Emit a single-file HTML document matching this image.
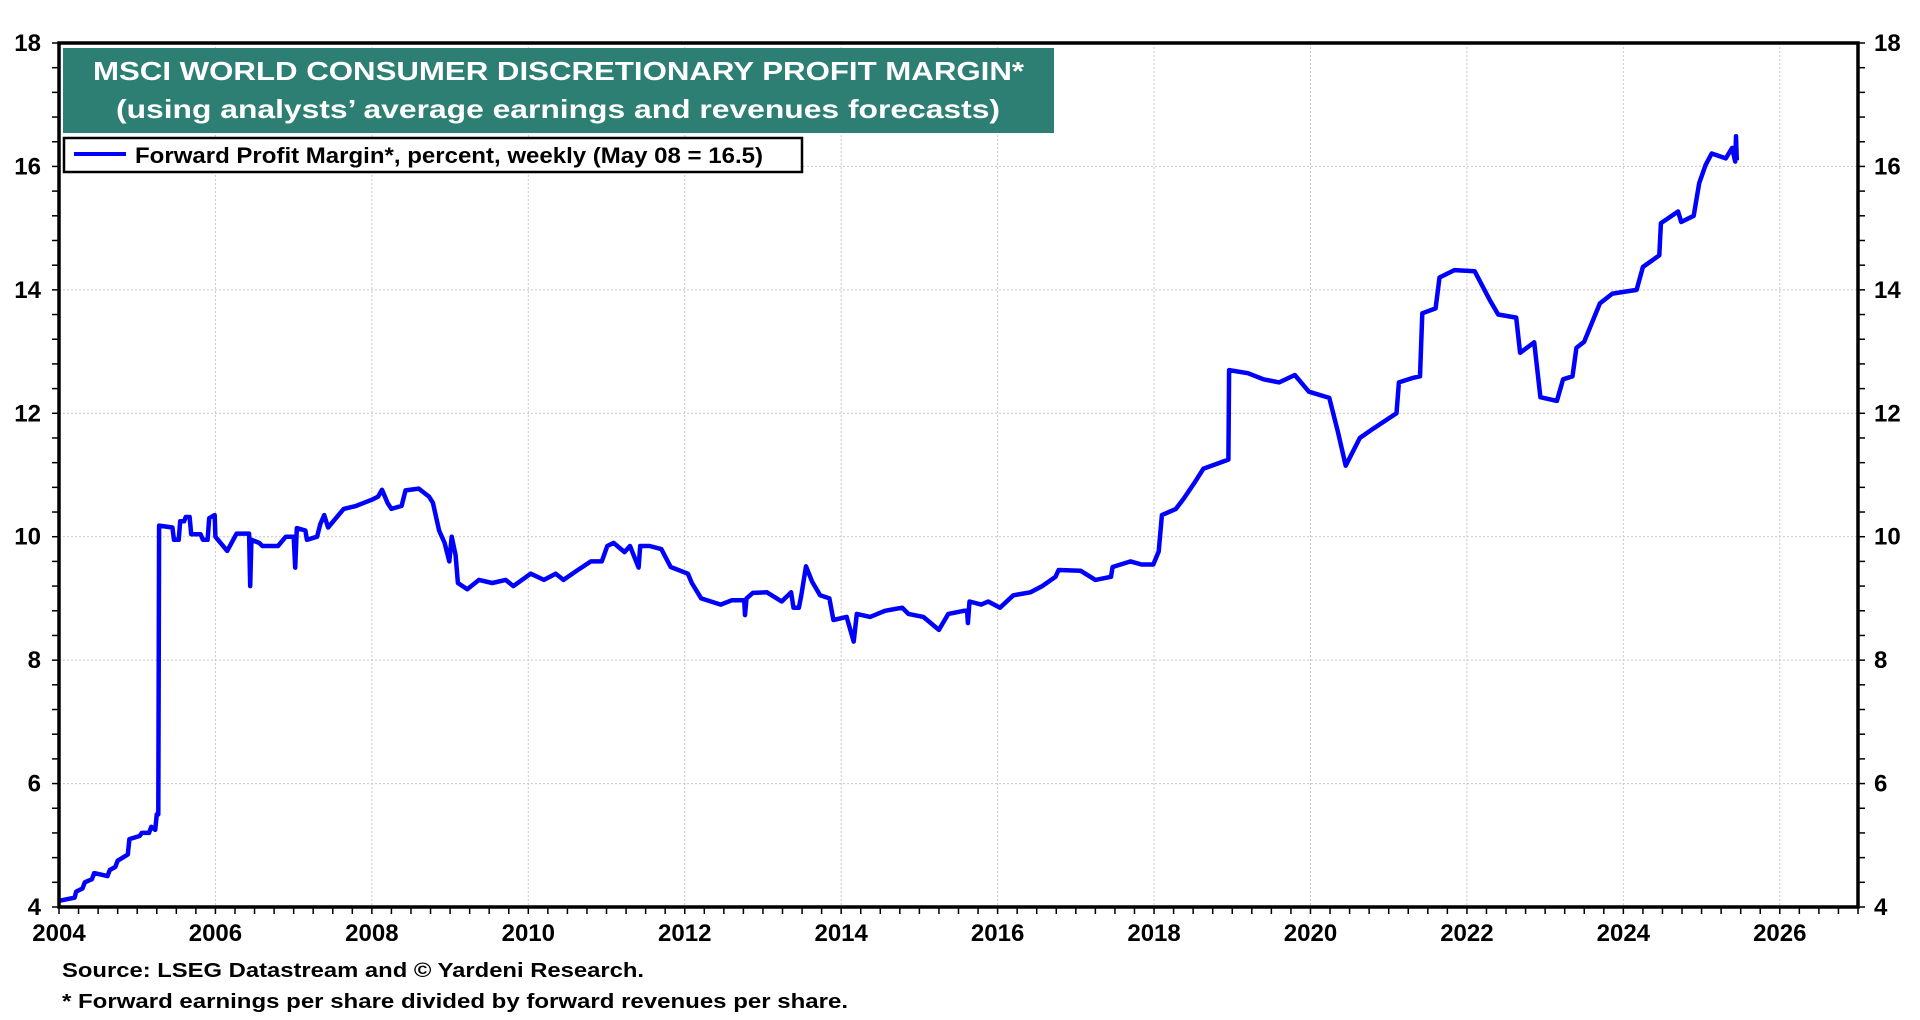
<!DOCTYPE html>
<html><head><meta charset="utf-8"><style>
html,body{margin:0;padding:0;background:#fff;}
svg{display:block;font-family:"Liberation Sans",Arial,sans-serif;font-weight:bold;}
</style></head><body>
<svg id="chart" width="1920" height="1020" viewBox="0 0 1920 1020" xmlns="http://www.w3.org/2000/svg">
<g id="grid"></g>
<g id="series"></g>
<g id="axes"></g>
<rect x="63" y="48" width="991" height="85" fill="#2e7f73"/>
<text x="93" y="80" fill="#fff" font-size="26" textLength="931" lengthAdjust="spacingAndGlyphs">MSCI WORLD CONSUMER DISCRETIONARY PROFIT MARGIN*</text>
<text x="116" y="118" fill="#fff" font-size="26" textLength="884" lengthAdjust="spacingAndGlyphs">(using analysts’ average earnings and revenues forecasts)</text>
<g>
<rect x="64" y="138" width="738" height="34" fill="#fff" stroke="#000" stroke-width="2.5"/>
<line x1="74" y1="154" x2="126" y2="154" stroke="#0000ff" stroke-width="4"/>
<text x="135" y="163" font-size="22" textLength="628" lengthAdjust="spacingAndGlyphs">Forward Profit Margin*, percent, weekly (May 08 = 16.5)</text>
</g>
<text x="62" y="977" font-size="20.5" textLength="582" lengthAdjust="spacingAndGlyphs">Source: LSEG Datastream and © Yardeni Research.</text>
<text x="62" y="1008" font-size="20.5" textLength="786" lengthAdjust="spacingAndGlyphs">* Forward earnings per share divided by forward revenues per share.</text>
</svg>
<script>
const dates = [2004.0,2004.2,2004.22,2004.3,2004.33,2004.42,2004.45,2004.62,2004.65,2004.72,2004.75,2004.88,2004.9,2005.03,2005.06,2005.15,2005.18,2005.23,2005.25,2005.27,2005.28,2005.45,2005.47,2005.53,2005.55,2005.6,2005.62,2005.67,2005.69,2005.81,2005.84,2005.9,2005.92,2005.99,2006.0,2006.15,2006.27,2006.34,2006.43,2006.445,2006.46,2006.56,2006.6,2006.8,2006.9,2007.0,2007.02,2007.04,2007.15,2007.17,2007.3,2007.34,2007.39,2007.44,2007.54,2007.64,2007.8,2007.9,2008.0,2008.08,2008.13,2008.2,2008.25,2008.38,2008.43,2008.6,2008.73,2008.78,2008.86,2008.93,2008.99,2009.02,2009.07,2009.1,2009.22,2009.37,2009.54,2009.71,2009.81,2010.03,2010.2,2010.35,2010.45,2010.62,2010.8,2010.94,2011.01,2011.09,2011.23,2011.3,2011.41,2011.43,2011.55,2011.7,2011.82,2012.04,2012.09,2012.21,2012.46,2012.6,2012.76,2012.77,2012.79,2012.87,2013.05,2013.24,2013.36,2013.39,2013.46,2013.49,2013.55,2013.63,2013.73,2013.85,2013.9,2014.07,2014.16,2014.2,2014.37,2014.56,2014.78,2014.86,2015.05,2015.25,2015.37,2015.57,2015.61,2015.62,2015.64,2015.79,2015.88,2016.03,2016.2,2016.42,2016.57,2016.74,2016.78,2017.06,2017.25,2017.45,2017.47,2017.7,2017.84,2017.99,2018.06,2018.1,2018.28,2018.38,2018.53,2018.63,2018.95,2018.96,2019.2,2019.4,2019.6,2019.8,2019.98,2020.24,2020.35,2020.45,2020.63,2020.8,2021.1,2021.13,2021.3,2021.4,2021.43,2021.6,2021.65,2021.84,2022.1,2022.29,2022.4,2022.63,2022.68,2022.86,2022.94,2023.15,2023.23,2023.35,2023.4,2023.5,2023.7,2023.86,2024.17,2024.25,2024.46,2024.48,2024.7,2024.74,2024.9,2024.97,2025.05,2025.13,2025.31,2025.39,2025.43,2025.44,2025.45];
const values = [4.1,4.15,4.25,4.3,4.4,4.45,4.55,4.5,4.6,4.65,4.75,4.85,5.1,5.15,5.2,5.2,5.3,5.25,5.5,5.5,10.18,10.15,9.95,9.95,10.25,10.25,10.32,10.32,10.04,10.04,9.95,9.95,10.3,10.35,10.0,9.77,10.05,10.05,10.05,9.2,9.95,9.9,9.85,9.85,10.0,10.0,9.5,10.14,10.1,9.95,10.0,10.2,10.35,10.15,10.3,10.45,10.5,10.55,10.6,10.65,10.76,10.55,10.45,10.5,10.75,10.78,10.65,10.55,10.1,9.9,9.6,10.0,9.7,9.25,9.15,9.3,9.25,9.3,9.2,9.4,9.3,9.4,9.3,9.45,9.6,9.6,9.85,9.9,9.75,9.85,9.5,9.85,9.85,9.8,9.51,9.4,9.25,9.0,8.9,8.97,8.97,8.73,9.0,9.09,9.1,8.95,9.1,8.85,8.85,9.05,9.52,9.27,9.05,9.0,8.65,8.7,8.3,8.75,8.7,8.8,8.85,8.75,8.7,8.49,8.75,8.8,8.8,8.6,8.95,8.9,8.95,8.85,9.05,9.1,9.2,9.35,9.46,9.45,9.3,9.35,9.51,9.6,9.55,9.55,9.76,10.35,10.45,10.62,10.9,11.1,11.25,12.7,12.65,12.55,12.5,12.62,12.35,12.25,11.7,11.15,11.6,11.75,12.0,12.5,12.57,12.6,13.62,13.7,14.2,14.32,14.3,13.84,13.6,13.55,12.98,13.15,12.26,12.2,12.55,12.6,13.06,13.16,13.78,13.94,14.0,14.37,14.56,15.08,15.27,15.1,15.2,15.73,16.02,16.21,16.13,16.3,16.08,16.49,16.1];
const yTicks = [4,6,8,10,12,14,16,18];
const xTicks = [2004,2006,2008,2010,2012,2014,2016,2018,2020,2022,2024,2026];

const X0=59, X1=1858, Y0=43, Y1=907;
const xMin=2004, xMax=2027, yMin=4, yMax=18;
const sx = d => X0 + (d-xMin)/(xMax-xMin)*(X1-X0);
const sy = v => Y1 - (v-yMin)/(yMax-yMin)*(Y1-Y0);
const NS='http://www.w3.org/2000/svg';
function mk(tag, attrs, parent){
  const e=document.createElementNS(NS,tag);
  for(const k in attrs) e.setAttribute(k, attrs[k]);
  parent.appendChild(e); return e;
}
const grid=document.getElementById('grid'), axes=document.getElementById('axes'), series=document.getElementById('series');
yTicks.forEach(v=>{
  if(v===yMin||v===yMax) return;
  const l=mk('line',{x1:X0,x2:X1,y1:sy(v),y2:sy(v),stroke:'#c8c8c8','stroke-width':1,'stroke-dasharray':'2,2'},grid);
  
  
});
xTicks.forEach(d=>{
  if(d===xMin) return;
  const l=mk('line',{x1:sx(d),x2:sx(d),y1:Y0,y2:Y1,stroke:'#c8c8c8','stroke-width':1,'stroke-dasharray':'2,2'},grid);
  
  
});
const pts = dates.map((d,i)=>sx(d).toFixed(1)+','+sy(values[i]).toFixed(1)).join(' ');
const line=mk('polyline',{points:pts,fill:'none',stroke:'#0000ff','stroke-width':4.5,'stroke-linejoin':'round'},series);


const frame=mk('rect',{x:X0,y:Y0,width:X1-X0,height:Y1-Y0,fill:'none',stroke:'#000','stroke-width':3.5},axes);


for(let v=yMin; v<=yMax+0.001; v+=0.4){
  const y=sy(v);
  const a=mk('line',{x1:X0-7,x2:X0,y1:y,y2:y,stroke:'#000','stroke-width':1.5},axes);
  
  
  const b=mk('line',{x1:X1,x2:X1+7,y1:y,y2:y,stroke:'#000','stroke-width':1.5},axes);
  
  
}
yTicks.forEach(v=>{
  const t=mk('text',{x:41,y:sy(v)+8,'text-anchor':'end','font-size':24},axes);
  t.textContent=v;
  
  
  const r=mk('text',{x:1874,y:sy(v)+8,'text-anchor':'start','font-size':24},axes);
  r.textContent=v;
  
  
});
for(let d=xMin; d<=xMax+0.001; d+=0.25){
  const x=sx(d);
  const t=mk('line',{x1:x,x2:x,y1:Y1,y2:Y1+7,stroke:'#000','stroke-width':1.5},axes);
  
  
}
xTicks.forEach(d=>{
  const t=mk('text',{x:sx(d),y:941,'text-anchor':'middle','font-size':24},axes);
  t.textContent=d;
  
  
});
</script>
</body></html>
